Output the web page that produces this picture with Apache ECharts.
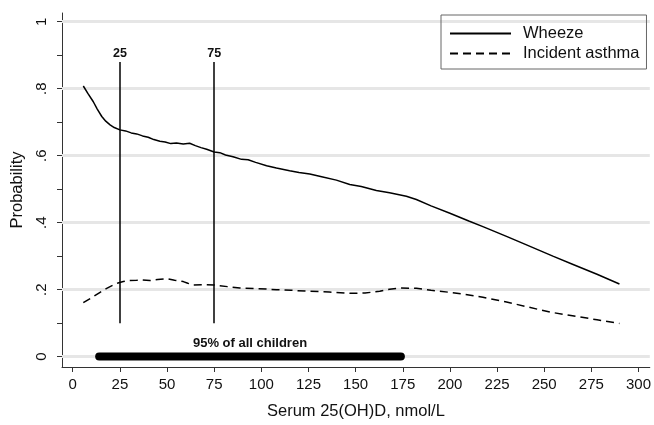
<!DOCTYPE html>
<html>
<head>
<meta charset="utf-8">
<script src="https://cdn.jsdelivr.net/npm/echarts@6/dist/echarts.min.js"></script>
<style>
  html, body { margin: 0; padding: 0; background: #fff; }
  #chart { width: 654px; height: 425px; }
</style>
</head>
<body>
<div id="chart"></div>
<script>
// Wheeze probability by serum 25(OH)D
const wheezeX = [5.6, 8, 10.9, 13, 15.4, 17.5, 19.8, 22, 25, 28, 31, 33.9, 37, 40, 43, 46.2, 49, 52, 55, 58.6, 62, 65, 68, 71, 75, 78, 81, 85, 89.5, 93, 97, 102.8, 108, 115, 120, 125.7, 132, 139.8, 146.9, 153, 161, 168, 176.9, 182.2, 190, 200, 210, 217.5, 230, 240, 254.6, 265, 278, 289.9];
const wheezeY = [0.808, 0.786, 0.761, 0.739, 0.717, 0.703, 0.692, 0.684, 0.677, 0.674, 0.668, 0.665, 0.659, 0.655, 0.648, 0.643, 0.641, 0.636, 0.638, 0.635, 0.637, 0.630, 0.624, 0.619, 0.611, 0.609, 0.602, 0.597, 0.589, 0.588, 0.580, 0.570, 0.563, 0.555, 0.550, 0.545, 0.537, 0.527, 0.514, 0.508, 0.496, 0.489, 0.479, 0.469, 0.450, 0.428, 0.405, 0.388, 0.359, 0.335, 0.300, 0.276, 0.246, 0.217];

// Incident asthma probability
const asthmaX = [5.6, 10, 14.5, 18, 21.5, 24, 26.8, 30, 33.9, 37, 40.9, 45, 49.8, 54, 58.6, 61, 63.9, 70, 75, 82, 88.6, 98, 108, 116, 125.7, 136, 146.9, 155, 162.8, 168, 173.4, 182.2, 190, 199.8, 208, 217.5, 230, 240, 253, 265, 278, 289.9];
const asthmaY = [0.161, 0.176, 0.192, 0.204, 0.214, 0.220, 0.224, 0.227, 0.228, 0.229, 0.227, 0.230, 0.233, 0.228, 0.224, 0.219, 0.214, 0.215, 0.214, 0.209, 0.205, 0.203, 0.200, 0.198, 0.195, 0.193, 0.189, 0.190, 0.195, 0.201, 0.205, 0.204, 0.198, 0.192, 0.186, 0.177, 0.163, 0.150, 0.133, 0.122, 0.110, 0.099];

// reference lines (percentiles) and 95% range bar
const refX = [25, 75];
const refYRange = [0.1, 0.88];
const rangeBar = [14, 174];
const rangeLabel = '95% of all children';

const xTicks = [0, 25, 50, 75, 100, 125, 150, 175, 200, 225, 250, 275, 300];
const yLabels = [0, 0.2, 0.4, 0.6, 0.8, 1];
const yTicks = [0, 0.1, 0.2, 0.3, 0.4, 0.5, 0.6, 0.7, 0.8, 0.9, 1];

function pairs(xs, ys) {
    return xs.map(function (x, i) { return [x, ys[i]]; });
}

const font = 'Liberation Sans, Arial, sans-serif';

let myChart = echarts.init(document.getElementById('chart'));

let option = {
    animation: false,
    textStyle: { fontFamily: font, color: '#111' },
    grid: { left: 62, right: 4, top: 13, bottom: 52 },
    legend: {
        left: 441,
        top: 15,
        orient: 'vertical',
        borderColor: '#666',
        borderWidth: 1,
        padding: [10, 7, 7, 8],
        itemGap: 3,
        itemWidth: 61,
        itemHeight: 14,
        itemStyle: { opacity: 0 },
        textStyle: { fontSize: 16.5, color: '#111', fontFamily: font, padding: [0, 0, 0, 7] },
        data: ['Wheeze', 'Incident asthma']
    },
    xAxis: {
        type: 'value',
        min: -5.7,
        max: 306,
        name: 'Serum 25(OH)D, nmol/L',
        nameLocation: 'middle',
        nameGap: 36,
        nameTextStyle: { fontSize: 16.5, color: '#111' },
        axisLine: { show: true, onZero: false, lineStyle: { color: '#333', width: 1 } },
        axisTick: { show: true, length: 5, customValues: xTicks, lineStyle: { color: '#333' } },
        axisLabel: { customValues: xTicks, fontSize: 15, color: '#111', margin: 10 },
        splitLine: { show: false }
    },
    yAxis: {
        type: 'value',
        min: -0.031,
        max: 1.026,
        name: 'Probability',
        nameLocation: 'middle',
        nameGap: 36,
        nameTextStyle: { fontSize: 16.5, color: '#111' },
        axisLine: { show: true, onZero: false, lineStyle: { color: '#333', width: 1 } },
        axisTick: { show: true, length: 5, customValues: yTicks, lineStyle: { color: '#333' } },
        axisLabel: {
            customValues: yLabels,
            rotate: 90,
            fontSize: 15,
            color: '#111',
            margin: 13,
            formatter: function (v) {
                if (v === 0) return '0';
                if (v === 1) return '1';
                return '.' + Math.round(v * 10);
            }
        },
        splitLine: { show: false }
    },
    series: [
        {
            name: 'grid',
            type: 'line',
            data: [],
            z: 1,
            silent: true,
            markLine: {
                silent: true,
                z: 1,
                symbol: 'none',
                animation: false,
                label: { show: false },
                lineStyle: { color: '#e6e6e6', width: 3, type: 'solid' },
                data: yLabels.map(function (v) { return { yAxis: v }; })
            }
        },
        {
            name: 'Wheeze',
            type: 'line',
            z: 3,
            symbol: 'none',
            showSymbol: false,
            lineStyle: { color: '#000', width: 1.5 },
            itemStyle: { color: '#000' },
            data: pairs(wheezeX, wheezeY),
            markLine: {
                silent: true,
                z: 3,
                symbol: 'none',
                animation: false,
                lineStyle: { color: '#000', width: 1.5, type: 'solid' },
                label: {
                    show: true,
                    position: 'end',
                    distance: 2,
                    fontSize: 12.5,
                    fontWeight: 'bold',
                    color: '#111',
                    formatter: function (p) { return String(p.data.coord[0]); }
                },
                data: refX.map(function (x) {
                    return [{ coord: [x, refYRange[0]] }, { coord: [x, refYRange[1]] }];
                })
            }
        },
        {
            name: 'Incident asthma',
            type: 'line',
            z: 3,
            symbol: 'none',
            showSymbol: false,
            lineStyle: { color: '#000', width: 1.5, type: [8, 5] },
            itemStyle: { color: '#000' },
            data: pairs(asthmaX, asthmaY)
        },
        {
            name: 'range',
            type: 'line',
            z: 4,
            symbol: 'none',
            showSymbol: false,
            silent: true,
            lineStyle: { color: '#000', width: 8, cap: 'round' },
            data: [[rangeBar[0], 0], [rangeBar[1], 0]],
            markPoint: {
                silent: true,
                z: 4,
                symbol: 'rect',
                symbolSize: 1,
                itemStyle: { color: 'rgba(0,0,0,0)' },
                label: {
                    show: true,
                    position: 'inside',
                    offset: [0, -13],
                    fontSize: 13,
                    fontWeight: 'bold',
                    color: '#111',
                    formatter: rangeLabel
                },
                data: [{ coord: [(rangeBar[0] + rangeBar[1]) / 2, 0] }]
            }
        }
    ]
};

myChart.setOption(option);

window.addEventListener('resize', function () {
    myChart.resize();
}, false);
</script>
</body>
</html>
